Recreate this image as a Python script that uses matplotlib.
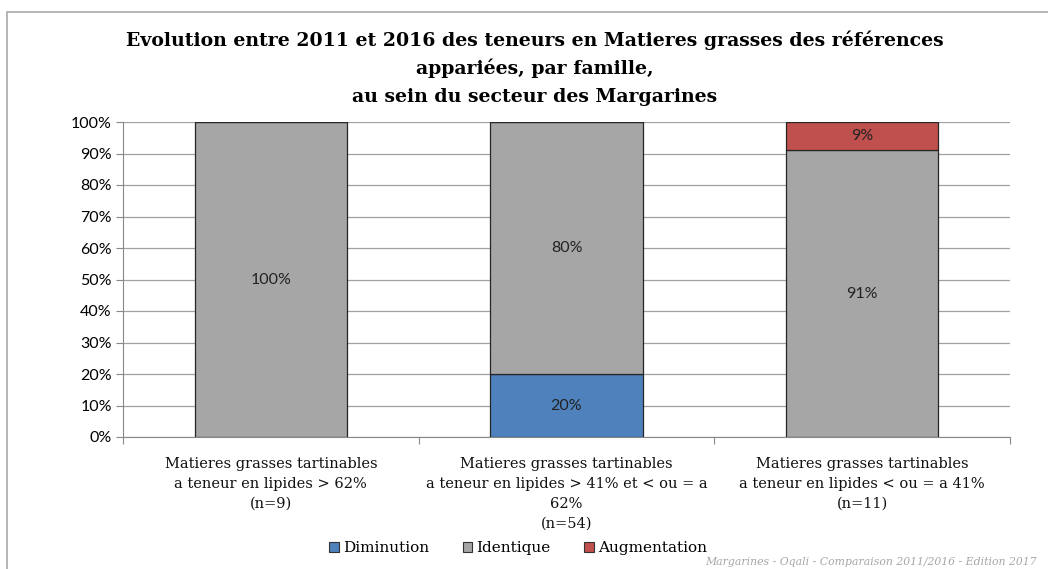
import matplotlib
matplotlib.use("Agg")
import matplotlib.pyplot as plt
from matplotlib.patches import Rectangle
import numpy as np

categories = [
    "Matieres grasses tartinables\na teneur en lipides > 62%\n(n=9)",
    "Matieres grasses tartinables\na teneur en lipides > 41% et < ou = a\n62%\n(n=54)",
    "Matieres grasses tartinables\na teneur en lipides < ou = a 41%\n(n=11)",
]
series_names = ["Diminution", "Identique", "Augmentation"]
diminution = [0, 20, 0]
identique = [100, 80, 91]
augmentation = [0, 0, 9]
colors = ["#4F81BD", "#A6A6A6", "#C0504D"]
yticks = list(range(0, 101, 10))
title_lines = [
    "Evolution entre 2011 et 2016 des teneurs en Matieres grasses des références",
    "appariées, par famille,",
    "au sein du secteur des Margarines",
]
footnote = "Margarines - Oqali - Comparaison 2011/2016 - Edition 2017"

SERIF = ["DejaVu Serif"]
SANS = ["Lato", "DejaVu Sans"]
plt.rcParams["font.family"] = SERIF

W, H = 1048, 569
fig = plt.figure(figsize=(W/100, H/100), dpi=100)
ax = fig.add_axes([123/W, 1-437/H, 887/W, 315/H])

def fy(py):
    return 1 - py/H

x = np.arange(len(categories))
bottom = np.zeros(len(categories))
for name, vals, c in zip(series_names, [diminution, identique, augmentation], colors):
    vals = np.array(vals, dtype=float)
    ax.bar(x, vals, 0.515, bottom=bottom, color=c, edgecolor="#262626",
           linewidth=0.9, label=name, zorder=3)
    for xi, v, b in zip(x, vals, bottom):
        if v > 0:
            ax.text(xi, b + v/2, f"{v:.0f}%", ha="center", va="center",
                    fontsize=11.5, family=SANS, color="#222222", zorder=4)
    bottom += vals

ax.set_xlim(-0.5, 2.5)
ax.set_ylim(0, 100)
ax.set_yticks(yticks)
ax.set_yticklabels([f"{t}%" for t in yticks], fontsize=11.5, family=SANS)
ax.yaxis.grid(True, color="#A0A0A0", linewidth=0.9, zorder=0)
ax.set_axisbelow(True)
ax.set_xticks([-0.5, 0.5, 1.5, 2.5])
ax.set_xticklabels([])
ax.tick_params(axis="x", length=5, color="#888888", direction="out")
ax.tick_params(axis="y", length=5, color="#888888", direction="out", pad=3)
for s in ["top", "right"]:
    ax.spines[s].set_visible(False)
ax.spines["left"].set_color("#888888")
ax.spines["bottom"].set_color("#888888")

# category labels, each line placed by baseline
for xi, lab in zip(x, categories):
    xf = (123 + (xi + 0.5) * 887/3) / W
    for k, line in enumerate(lab.split("\n")):
        fig.text(xf, fy(468 + 20*k), line, ha="center", va="baseline",
                 fontsize=10.5, color="#111111")

for k, line in enumerate(title_lines):
    fig.text(535/W, fy(46 + 28*k), line, ha="center", va="baseline",
             fontsize=13.6, fontweight="bold")

leg = fig.legend(loc="center", bbox_to_anchor=(518/W, fy(548)), ncol=3, frameon=False,
                 fontsize=11, handlelength=0.65, handleheight=0.65, handletextpad=0.25,
                 columnspacing=2.2, borderaxespad=0)
for h in leg.legend_handles:
    h.set_edgecolor("#333333")
    h.set_linewidth(0.8)

fig.text(705/W, fy(565), footnote, ha="left", va="baseline",
         fontsize=7.8, style="italic", color="#A6A6A6")

fig.patches.append(Rectangle((7/W, -0.1), 1.2, fy(12) + 0.1, transform=fig.transFigure,
                             fill=False, edgecolor="#B0B0B0", linewidth=1.3))

fig.savefig("out.png", dpi=100)
